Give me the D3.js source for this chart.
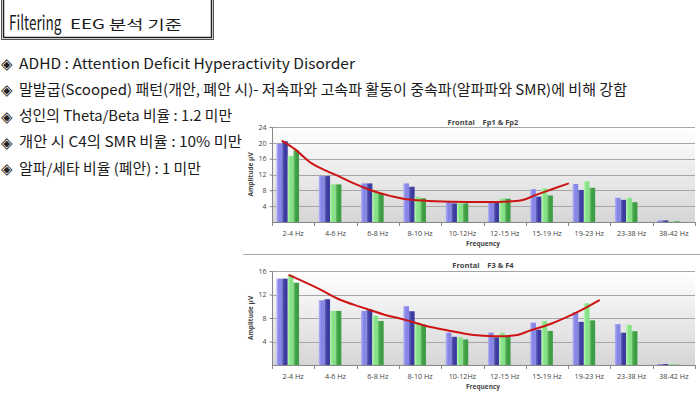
<!DOCTYPE html>
<html>
<head>
<meta charset="utf-8">
<script src="https://cdn.jsdelivr.net/npm/d3@7"></script>
<style>
  html, body { margin: 0; padding: 0; background: #fff; }
  svg { display: block; }
  .kr { font-family: "Noto Sans CJK KR", "Noto Sans", sans-serif; fill: #1a1a1a; }
  .bul { font-family: "DejaVu Sans", sans-serif; fill: #222; }
  .ax { font-family: "Open Sans", "Liberation Sans", sans-serif; fill: #444; }
</style>
</head>
<body>
<svg id="chart"></svg>
<script>
// ---- data ----
const categories = ['2-4 Hz', '4-6 Hz', '6-8 Hz', '8-10 Hz', '10-12Hz', '12-15 Hz', '15-19 Hz', '19-23 Hz', '23-38 Hz', '38-42 Hz'];
const seriesKeys = ['s1', 's2', 's3', 's4'];

// Frontal Fp1 & Fp2
const fpS1 = [19.8, 11.6, 9.75, 9.75, 5.3, 5.3, 8.3, 9.6, 6.1, 0.4];
const fpS2 = [20.4, 11.6, 9.75, 8.9, 4.7, 4.8, 6.4, 8.1, 5.6, 0.4];
const fpS3 = [16.7, 9.5, 7.6, 6.4, 4.7, 5.9, 8.5, 10.3, 6.1, 0.17];
const fpS4 = [18.1, 9.5, 7.3, 6.0, 4.7, 5.9, 6.7, 8.65, 5.0, 0.17];
const fpTicks = [4, 8, 12, 16, 20, 24];
// hand drawn red trend line: position in category units, amplitude
const fpCurveU = [0.25, 0.54, 0.94, 1.29, 1.61, 1.92, 2.32, 2.79, 3.30, 5.90, 6.18, 6.57, 7.0];
const fpCurveV = [20.45, 18.4, 14.8, 12.9, 11.4, 9.8, 8.1, 6.6, 5.6, 5.5, 6.6, 8.1, 9.7];

// Frontal F3 & F4
const f34S1 = [14.7, 11.0, 9.2, 10.0, 5.5, 5.5, 7.2, 9.0, 6.95, 0.17];
const f34S2 = [14.7, 11.2, 9.5, 9.15, 4.8, 4.7, 6.0, 7.35, 5.5, 0.17];
const f34S3 = [15.3, 9.2, 8.4, 7.1, 4.7, 5.5, 7.5, 10.5, 6.8, 0.17];
const f34S4 = [14.0, 9.2, 7.5, 6.9, 4.35, 5.0, 5.8, 7.6, 5.75, 0.05];
const f34Ticks = [4, 8, 12, 16];
const f34CurveU = [0.41, 1.10, 1.61, 2.09, 2.64, 3.19, 3.67, 4.14, 4.77, 5.24, 5.80, 6.11, 6.51, 6.98, 7.38, 7.73];
const f34CurveV = [15.3, 13.0, 11.1, 9.9, 8.6, 7.6, 6.6, 5.9, 5.1, 4.9, 5.1, 5.9, 6.8, 8.2, 9.6, 11.0];

const bullets = [
  'ADHD : Attention Deficit Hyperactivity Disorder',
  '말발굽(Scooped) 패턴(개안, 폐안 시)- 저속파와 고속파 활동이 중속파(알파파와 SMR)에 비해 강함',
  '성인의 Theta/Beta 비율 : 1.2 미만',
  '개안 시 C4의 SMR 비율 : 10% 미만',
  '알파/세타 비율 (폐안) : 1 미만'
];
const bulletWidths = [336, 608, 213, 223, 182];

// ---- layout ----
const W = 700, H = 397;
const svg = d3.select('#chart').attr('width', W).attr('height', H);

const defs = svg.append('defs');
const colors = {
  s1: ['#b4b4f6', '#8686e6'],
  s2: ['#6a6ac4', '#3c3ca0'],
  s3: ['#b8f7b4', '#86e286'],
  s4: ['#6cc26c', '#3e9e44']
};
seriesKeys.forEach(k => {
  const g = defs.append('linearGradient').attr('id', 'g' + k)
    .attr('x1', 0).attr('x2', 1).attr('y1', 0).attr('y2', 0);
  g.append('stop').attr('offset', '0%').attr('stop-color', colors[k][0]);
  g.append('stop').attr('offset', '45%').attr('stop-color', colors[k][1]);
  g.append('stop').attr('offset', '100%').attr('stop-color', colors[k][1]);
});
const bg = defs.append('linearGradient').attr('id', 'plotbg')
  .attr('x1', 0).attr('x2', 0).attr('y1', 0).attr('y2', 1);
bg.append('stop').attr('offset', '0%').attr('stop-color', '#ffffff');
bg.append('stop').attr('offset', '100%').attr('stop-color', '#d6d6d6');

// ---- title box ----
svg.append('rect').attr('x', 1.5).attr('y', -2).attr('width', 212).attr('height', 41.5)
  .attr('fill', 'none').attr('stroke', '#555').attr('stroke-width', 1);
svg.append('rect').attr('x', 3.5).attr('y', -2).attr('width', 208).attr('height', 39.5)
  .attr('fill', 'none').attr('stroke', '#222').attr('stroke-width', 1.5);
svg.append('text').attr('class', 'kr')
  .attr('transform', 'translate(9,30) scale(0.68,1)')
  .attr('font-size', 20).text('Filtering');
svg.append('text').attr('class', 'kr').attr('x', 70).attr('y', 29)
  .attr('font-size', 13).attr('textLength', 112).attr('lengthAdjust', 'spacingAndGlyphs')
  .text('EEG 분석 기준');

// ---- bullets ----
const by = d3.scaleLinear().domain([0, 4]).range([68.5, 173.5]);
bullets.forEach((b, i) => {
  svg.append('text').attr('class', 'bul').attr('x', 1).attr('y', by(i) + 0.5)
    .attr('font-size', 15).text('◈');
  svg.append('text').attr('class', 'kr').attr('x', 19).attr('y', by(i))
    .attr('font-size', 14.5).attr('textLength', bulletWidths[i]).attr('lengthAdjust', 'spacingAndGlyphs')
    .text(b);
});

// separator between the two chart images
svg.append('line').attr('x1', 243).attr('x2', 700).attr('y1', 254.5).attr('y2', 254.5)
  .attr('stroke', '#a8a8a8');

function drawChart(cfg) {
  const g = svg.append('g');
  const x = d3.scaleBand().domain(categories).range([272, 695]).padding(0);
  const xu = d3.scaleLinear().domain([0, categories.length]).range([272, 695]);
  const bw = x.bandwidth();
  const x1 = d3.scaleBand().domain(seriesKeys).range([bw * 0.105, bw * 0.64]).padding(0);
  const y = d3.scaleLinear().domain([0, cfg.max]).range(cfg.yRange);

  g.append('rect').attr('x', 272).attr('y', y(cfg.max)).attr('width', 423)
    .attr('height', y(0) - y(cfg.max)).attr('fill', 'url(#plotbg)');

  g.selectAll('line.grid').data(cfg.ticks).join('line').attr('class', 'grid')
    .attr('x1', 272).attr('x2', 695)
    .attr('y1', d => Math.round(y(d)) + 0.5).attr('y2', d => Math.round(y(d)) + 0.5)
    .attr('stroke', '#a6a6a6').attr('stroke-width', 1);

  const rows = categories.map((c, i) => ({ cat: c, vals: cfg.series.map((s, j) => ({ key: seriesKeys[j], v: s[i] })) }));
  g.selectAll('g.cat').data(rows).join('g').attr('class', 'cat')
    .attr('transform', d => `translate(${x(d.cat)},0)`)
    .selectAll('rect').data(d => d.vals).join('rect')
    .attr('x', d => x1(d.key)).attr('width', x1.bandwidth())
    .attr('y', d => y(d.v)).attr('height', d => y(0) - y(d.v))
    .attr('fill', d => `url(#g${d.key})`);

  // axes
  const ya = d3.axisLeft(y).tickValues(cfg.ticks).tickSize(3).tickPadding(3);
  const yg = g.append('g').attr('transform', 'translate(272.5,0)').call(ya);
  yg.select('.domain').attr('stroke', '#888').attr('d', `M0,${y(cfg.max)}V${y(0)}`);
  yg.selectAll('.tick line').attr('stroke', '#888');
  yg.selectAll('text').attr('class', 'ax').attr('font-size', 7).attr('fill', '#444');

  const xa = d3.axisBottom(x).tickSize(0).tickPadding(8);
  const xg = g.append('g').attr('transform', `translate(0,${Math.round(y(0)) + 0.5})`).call(xa);
  xg.select('.domain').attr('stroke', '#888').attr('d', 'M272,0H695');
  xg.selectAll('text').attr('class', 'ax').attr('font-size', 7.2).attr('fill', '#333');
  g.selectAll('line.xt').data(d3.range(categories.length + 1)).join('line').attr('class', 'xt')
    .attr('x1', d => Math.round(xu(d)) + 0.5).attr('x2', d => Math.round(xu(d)) + 0.5)
    .attr('y1', y(0)).attr('y2', y(0) + 4).attr('stroke', '#888');

  // titles
  g.append('text').attr('class', 'ax').attr('x', 483).attr('y', cfg.titleY)
    .attr('text-anchor', 'middle').attr('font-size', 7.5).attr('font-weight', 'bold')
    .attr('fill', '#333').attr('xml:space', 'preserve').text(cfg.title);
  g.append('text').attr('class', 'ax').attr('x', 483).attr('y', cfg.xLabelY)
    .attr('text-anchor', 'middle').attr('font-size', 6.5).attr('font-weight', 'bold')
    .attr('fill', '#333').text('Frequency');
  const my = (y(0) + y(cfg.max)) / 2;
  g.append('text').attr('class', 'ax').attr('transform', `translate(253,${my}) rotate(-90)`)
    .attr('text-anchor', 'middle').attr('font-size', 6.5).attr('font-weight', 'bold')
    .attr('fill', '#333').text('Amplitude µV');

  // red trend annotation
  const pts = cfg.curveU.map((u, i) => [u, cfg.curveV[i]]);
  g.append('path').datum(pts)
    .attr('d', d3.line().x(d => xu(d[0])).y(d => y(d[1])).curve(d3.curveCatmullRom))
    .attr('fill', 'none').attr('stroke', '#cc1414').attr('stroke-width', 2)
    .attr('stroke-linecap', 'round');
}

drawChart({
  title: 'Frontal    Fp1 & Fp2', max: 24, ticks: fpTicks, yRange: [222, 127],
  series: [fpS1, fpS2, fpS3, fpS4], curveU: fpCurveU, curveV: fpCurveV,
  titleY: 124.5, xLabelY: 245.5
});
drawChart({
  title: 'Frontal    F3 & F4', max: 16, ticks: f34Ticks, yRange: [365, 271],
  series: [f34S1, f34S2, f34S3, f34S4], curveU: f34CurveU, curveV: f34CurveV,
  titleY: 268, xLabelY: 389
});
</script>
</body>
</html>
